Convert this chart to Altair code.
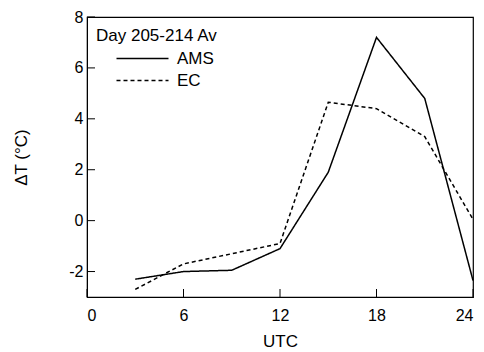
import altair as alt
import pandas as pd

hours = [3, 6, 9, 12, 15, 18, 21, 24]
ams = [-2.3, -2.0, -1.95, -1.1, 1.9, 7.2, 4.8, -2.35]
ec = [-2.7, -1.7, -1.3, -0.9, 4.65, 4.4, 3.3, 0.05]
x_ticks = [0, 6, 12, 18, 24]
y_ticks = [-2, 0, 2, 4, 6, 8]

W, H = 386, 280
FONT = "Liberation Sans"

df = pd.concat([
    pd.DataFrame({"UTC": hours, "dT": ams, "series": "AMS"}),
    pd.DataFrame({"UTC": hours, "dT": ec, "series": "EC"}),
])

xs = alt.Scale(domain=[0, 24], nice=False, zero=False)
ys = alt.Scale(domain=[-3, 8], nice=False, zero=False)

lines = alt.Chart(df).mark_line(color="black", strokeWidth=1.5).encode(
    x=alt.X("UTC:Q", scale=xs,
            axis=alt.Axis(values=x_ticks, title="UTC", ticks=False, grid=False,
                          labelPadding=10, titlePadding=10)),
    y=alt.Y("dT:Q", scale=ys,
            axis=alt.Axis(values=y_ticks, title="ΔT (°C)", ticks=False, grid=False,
                          labelExpr="datum.value + ''",
                          labelPadding=4, titlePadding=38)),
    strokeDash=alt.StrokeDash(
        "series:N",
        scale=alt.Scale(domain=["AMS", "EC"], range=[[1, 0], [4, 3]]),
        legend=alt.Legend(title="Day 205-214 Av", orient="none", legendX=9, legendY=11,
                          symbolType="M-4,0H4", symbolSize=169,
                          symbolStrokeWidth=1.5, symbolStrokeColor="black",
                          symbolOffset=38, labelOffset=26, rowPadding=4,
                          titlePadding=5, padding=0),
    ),
)

xt = alt.Chart(pd.DataFrame({"t": x_ticks})).mark_rule(color="black", strokeWidth=1).encode(
    x=alt.X("t:Q", scale=xs), y=alt.value(H), y2=alt.value(H - 8))
yt = alt.Chart(pd.DataFrame({"t": y_ticks})).mark_rule(color="black", strokeWidth=1).encode(
    y=alt.Y("t:Q", scale=ys), x=alt.value(0), x2=alt.value(8))

chart = alt.layer(lines, xt, yt).properties(
    width=W, height=H, padding={"left": 4, "top": 1, "right": 0, "bottom": 0}
).configure_view(stroke="black", strokeWidth=1.2).configure_axis(
    domainColor="black", labelColor="black", titleColor="black",
    labelFont=FONT, titleFont=FONT, labelFontSize=16, titleFontSize=17,
    titleFontWeight="normal"
).configure_legend(
    titleFont=FONT, labelFont=FONT, titleFontSize=17, labelFontSize=17,
    titleFontWeight="normal", titleColor="black", labelColor="black"
)

chart.save("out.html", embed_options={"renderer": "svg", "actions": False})
